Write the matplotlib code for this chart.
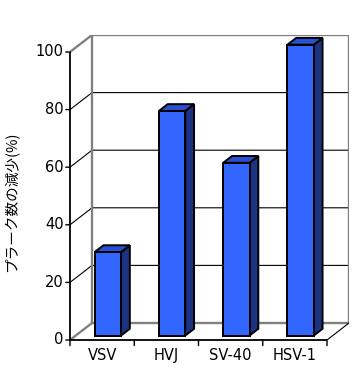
import matplotlib
matplotlib.use("Agg")
import matplotlib.pyplot as plt
from matplotlib.patches import Polygon

categories = ["VSV", "HVJ", "SV-40", "HSV-1"]
values = [29, 78, 60, 101]
y_ticks = [0, 20, 40, 60, 80, 100]
ylabel = "プラーク数の減少(%)"

W, H = 363, 386
fig = plt.figure(figsize=(W / 100, H / 100), dpi=100)
# axes spans front-left-bottom corner to back-right-top corner
x0, y0 = 70, 340
x1, y1 = 349, 35
ax = fig.add_axes([x0 / W, 1 - y0 / H, (x1 - x0) / W, (y0 - y1) / H])
ax.set_axis_off()

n = len(categories)
front_w = 327 - 70          # px of category axis at front
DX = n * 22 / front_w        # depth offset in data x units
ymax = 100
DY = 17 / ((340 - 52) / 100)  # depth offset in data y units
ax.set_xlim(0, n + DX)
ax.set_ylim(0, ymax + DY)


def P(x, y, z):
    return (x + z * DX, y + z * DY)


gray = "#808080"
# gridlines
for t in y_ticks[1:-1]:
    ax.plot(*zip(P(0, t, 0), P(0, t, 1), P(n, t, 1)), color="black", lw=0.8, zorder=1)
# walls borders (gray)
ax.plot(*zip(P(0, 0, 0), P(0, 0, 1), P(0, ymax, 1), P(0, ymax, 0)), color=gray, lw=1.7, zorder=2)
ax.plot(*zip(P(0, ymax, 1), P(n, ymax, 1), P(n, 0, 1), P(0, 0, 1)), color=gray, lw=1.7, zorder=2)
# floor right edge
ax.plot(*zip(P(n, 0, 0), P(n, 0, 1)), color="black", lw=0.8, zorder=2)
# front axes
ax.plot(*zip(P(0, ymax, 0), P(0, 0, 0), P(n, 0, 0)), color="black", lw=1.3, zorder=3,
        solid_capstyle="butt", clip_on=False)
# y ticks
for t in y_ticks:
    ax.annotate("", xy=P(0, t, 0), xytext=(-3, 0), textcoords="offset points",
                arrowprops=dict(arrowstyle="-", color="black", lw=1.0, shrinkA=0, shrinkB=0),
                annotation_clip=False)
    ax.annotate(str(t), xy=P(0, t, 0), xytext=(-4.5, 0), textcoords="offset points",
                ha="right", va="center", fontsize=10.5, family="DejaVu Sans",
                annotation_clip=False)
# x ticks
for i in range(n + 1):
    ax.annotate("", xy=P(i, 0, 0), xytext=(0, -4), textcoords="offset points",
                arrowprops=dict(arrowstyle="-", color="black", lw=1.0, shrinkA=0, shrinkB=0),
                annotation_clip=False)
for i, c in enumerate(categories):
    ax.annotate(c, xy=P(i + 0.5, 0, 0), xytext=(0, -11.5), textcoords="offset points",
                ha="center", va="center", fontsize=10.5, family="DejaVu Sans",
                annotation_clip=False)

# bars
bw = 0.41
zf, zb = 0.26, 0.66
front_c, top_c, side_c = "#3366FF", "#2B50CF", "#1C3382"
for i, v in enumerate(values):
    xl = i + 0.5 - bw / 2
    xr = i + 0.5 + bw / 2
    side = [P(xr, 0, zf), P(xr, 0, zb), P(xr, v, zb), P(xr, v, zf)]
    top = [P(xl, v, zf), P(xl, v, zb), P(xr, v, zb), P(xr, v, zf)]
    front = [P(xl, 0, zf), P(xr, 0, zf), P(xr, v, zf), P(xl, v, zf)]
    for poly, col in ((side, side_c), (top, top_c), (front, front_c)):
        ax.add_patch(Polygon(poly, closed=True, facecolor=col, edgecolor="black",
                             lw=1.4, joinstyle="miter", zorder=5, clip_on=False))

fig.text(12 / W, 1 - 202 / H, ylabel, rotation=90, ha="center", va="center",
         fontsize=10.5, family=["Noto Sans CJK JP", "DejaVu Sans"])

fig.savefig("out.png", dpi=100)
